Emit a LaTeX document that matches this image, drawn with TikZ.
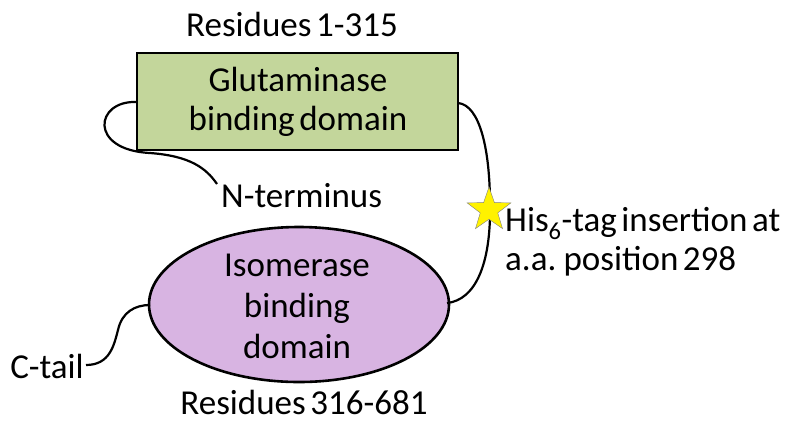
\documentclass[tikz,border=0pt]{standalone}
\usepackage{fontspec}
\setmainfont{Carlito}
\usetikzlibrary{shapes.geometric}
\definecolor{glugreen}{HTML}{C3D69B}
\definecolor{isolilac}{HTML}{D8B4E2}
\newcommand\tightsp{\spaceskip=0.13em\relax}
\begin{document}
\begin{tikzpicture}[x=1pt,y=-1pt,
  lbl/.style={font=\fontsize{35}{39}\selectfont\tightsp, inner sep=0pt, align=center},
  domline/.style={line width=2.6pt}]
\useasboundingbox (0,0) rectangle (786,424);
\node[lbl] (res1) at (292,24) {Residues 1-315};
\node[draw, domline, fill=glugreen, minimum width=321pt, minimum height=97pt, inner sep=0pt] (glu) at (297.5,101.5){};
\node[lbl] (glutxt) at (298,102) {Glutaminase\\binding domain};
\node[lbl, anchor=west] (nterm) at (221,196) {N-terminus};
\node[draw, domline, fill=isolilac, ellipse, minimum width=300pt, minimum height=155pt, inner sep=0pt] (iso) at (299,304.5){};
\node[lbl, font=\fontsize{35}{41}\selectfont] (isotxt) at (297,306) {Isomerase\\binding\\domain};
\node[lbl] (res2) at (304,402) {Residues 316-681};
\node[lbl, anchor=east] (ctail) at (84,366) {C-tail};
\node[lbl, anchor=west, align=left] (histxt) at (505,242) {His\textsubscript{6}-tag insertion at\\a.a. position 298};
\coordinate (gluL) at (137,102);
\coordinate (gluR) at (458,103);
\coordinate (isoL) at (150,305);
\coordinate (isoR) at (447,303);
\coordinate (nend) at (217,184);
\coordinate (cend) at (86,365);
\draw[line width=2.2pt] (gluL) .. controls (95,100) and (88,150) .. (150,153) .. controls (190,156) and (206,168) .. (nend);
\draw[line width=2.2pt] (gluR) .. controls (480,105) and (490,150) .. (490,205) .. controls (491,265) and (475,300) .. (isoR);
\draw[line width=2.2pt] (cend) .. controls (110,365) and (114,345) .. (118,330) .. controls (122,312) and (135,305) .. (isoL);
\node[star, star points=5, star point ratio=2.5, draw=gray, fill=yellow, minimum size=46pt, inner sep=0pt] (tag) at (489,210){};
\end{tikzpicture}
\end{document}
